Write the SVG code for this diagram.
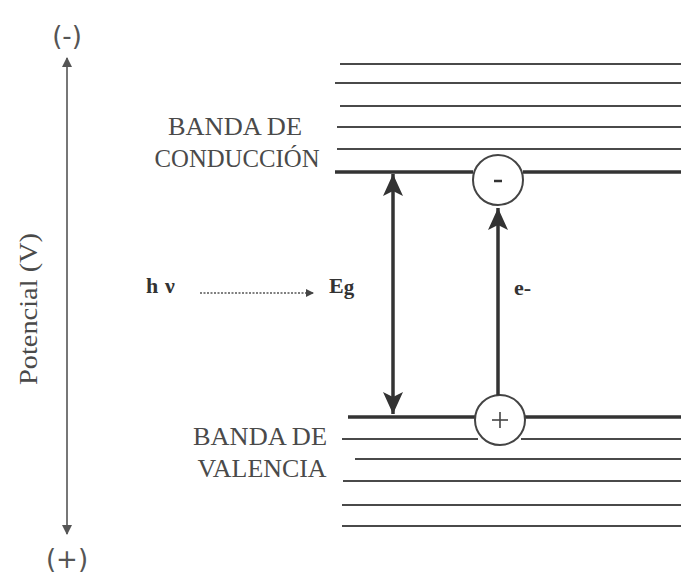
<svg xmlns="http://www.w3.org/2000/svg" width="681" height="576" viewBox="0 0 681 576">
<defs>
<style>
.thin{stroke:#4a4a4a;stroke-width:2;fill:none}
.thick{stroke:#333;stroke-width:3.5;fill:none}
.lbl{font-family:"Liberation Serif","Times New Roman",serif;fill:#4a4a4a;font-size:26px;text-anchor:middle}
.bold{font-family:"Liberation Serif","Times New Roman",serif;fill:#333;font-weight:bold;font-size:22px}
.sign{font-family:"DejaVu Sans","Liberation Sans",sans-serif;fill:#555;font-size:26px;text-anchor:middle}
</style>
<marker id="ah" markerWidth="10" markerHeight="10" refX="9" refY="5" orient="auto-start-reverse" markerUnits="userSpaceOnUse"><path d="M0,0 L10,5 L0,10 z" fill="#555"/></marker>
<marker id="big" markerWidth="24" markerHeight="22" refX="22" refY="11" orient="auto-start-reverse" markerUnits="userSpaceOnUse"><path d="M0,1 L22,11 L0,21 L5,11 z" fill="#333"/></marker>
<marker id="dot" markerWidth="8" markerHeight="8" refX="7" refY="4" orient="auto" markerUnits="userSpaceOnUse"><path d="M0,0 L8,4 L0,8 z" fill="#444"/></marker>
</defs>
<rect width="681" height="576" fill="#fff"/>
<g id="axis">
<line x1="67" y1="534" x2="67" y2="58" stroke="#555" stroke-width="1.6" marker-start="url(#ah)" marker-end="url(#ah)"/>
<text class="sign" x="67" y="45">(-)</text>
<text class="sign" x="67" y="568">(+)</text>
<text class="lbl" transform="translate(37,309) rotate(-90)" font-size="27" textLength="152" lengthAdjust="spacingAndGlyphs">Potencial (V)</text>
</g>
<g id="conduction-band">
<line class="thin" x1="340" y1="64" x2="681" y2="64"/>
<line class="thin" x1="335" y1="83" x2="681" y2="83"/>
<line class="thin" x1="340" y1="106" x2="681" y2="106"/>
<line class="thin" x1="337" y1="127" x2="681" y2="127"/>
<line class="thin" x1="337" y1="149" x2="681" y2="149"/>
<line class="thick" x1="335" y1="172" x2="473" y2="172"/>
<line class="thick" x1="523" y1="172" x2="681" y2="172"/>
<text class="lbl" x="235" y="135" textLength="134" lengthAdjust="spacingAndGlyphs">BANDA DE</text>
<text class="lbl" x="237" y="167" textLength="165" lengthAdjust="spacingAndGlyphs">CONDUCCIÓN</text>
</g>
<g id="electron">
<circle cx="498" cy="180" r="25" fill="#fff" stroke="#444" stroke-width="2"/>
<line x1="494" y1="181" x2="502" y2="181" stroke="#333" stroke-width="2.5"/>
</g>
<g id="valence-band">
<line class="thick" x1="348" y1="417" x2="475" y2="417"/>
<line class="thick" x1="525" y1="417" x2="681" y2="417"/>
<line class="thin" x1="342" y1="439" x2="478" y2="439"/>
<line class="thin" x1="521" y1="439" x2="681" y2="439"/>
<line class="thin" x1="355" y1="459" x2="681" y2="459"/>
<line class="thin" x1="343" y1="481" x2="681" y2="481"/>
<line class="thin" x1="342" y1="505" x2="681" y2="505"/>
<line class="thin" x1="342" y1="526" x2="681" y2="526"/>
<text class="lbl" x="260" y="445" textLength="134" lengthAdjust="spacingAndGlyphs">BANDA DE</text>
<text class="lbl" x="262" y="477" textLength="129" lengthAdjust="spacingAndGlyphs">VALENCIA</text>
</g>
<g id="hole">
<circle cx="500" cy="420" r="25" fill="#fff" stroke="#444" stroke-width="2"/>
<line x1="492" y1="420" x2="508" y2="420" stroke="#444" stroke-width="1.6"/>
<line x1="500" y1="412" x2="500" y2="428" stroke="#444" stroke-width="1.6"/>
</g>
<g id="photon">
<text class="bold" x="146" y="293">h</text>
<text class="bold" x="165" y="293">ν</text>
<text class="bold" x="329" y="293">E<tspan font-size="21" dy="1">g</tspan></text>
<text class="bold" x="514" y="295">e-</text>
</g>
<g id="connectors">
<line x1="200" y1="293" x2="313" y2="293" stroke="#555" stroke-width="1.3" stroke-dasharray="2,1.5" marker-end="url(#dot)"/>
<line x1="393" y1="414" x2="393" y2="174" stroke="#333" stroke-width="3.5" marker-start="url(#big)" marker-end="url(#big)"/>
<line x1="498" y1="395" x2="498" y2="208" stroke="#333" stroke-width="3.5" marker-end="url(#big)"/>
</g>
</svg>
